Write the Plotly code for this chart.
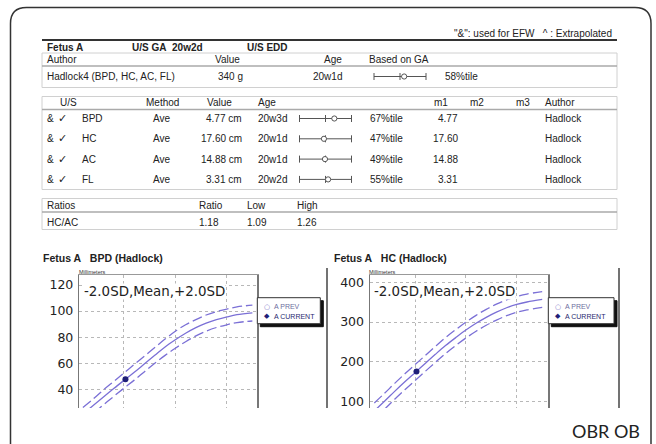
import plotly.graph_objects as go

W, H = 656, 444

# ---------------- data ----------------
weeks = [12, 14, 16, 18, 20, 22, 24, 26, 28, 30, 32, 34, 36, 38, 40, 42, 45]
bpd_upper = [26, 32.5, 39.5, 46, 52.5, 59, 65.5, 72, 78.5, 84.5, 89.5, 93.5, 97, 99.6, 101.5, 103.2, 104.6]
bpd_mean = [21, 27.5, 34, 40.5, 46.8, 53, 59.5, 66, 72.5, 78, 83, 87.3, 90.8, 93.5, 95.5, 97.2, 98.6]
bpd_lower = [15.5, 21.5, 28, 34.5, 40.8, 47, 53.5, 60, 66, 71.5, 76.5, 81, 84.6, 87.4, 89.5, 91.2, 92.4]
hc_upper = [97, 121, 146, 170, 193, 216, 239, 261, 281, 300, 317, 332, 345, 356, 364.5, 370.5, 376.5]
hc_mean = [77, 101, 126, 150, 173, 196, 219, 241, 261, 280, 297, 312, 325, 336, 344.5, 350.5, 357]
hc_lower = [57, 81, 106, 130, 153, 176, 199, 221, 241, 260, 277, 292, 305, 316, 324.5, 330.5, 337]
exam_ga = 20 + 2 / 7          # U/S GA 20w2d
bpd_current = 47.7            # mm
hc_current = 176.0            # mm

bpd_ticks = [40, 60, 80, 100, 120]
hc_ticks = [100, 200, 300, 400]
grid_weeks = [20, 30, 40]

efw_author = "Hadlock4 (BPD, HC, AC, FL)"
efw_value = "340 g"
efw_age = "20w1d"
efw_pct = 58

us_names = ["BPD", "HC", "AC", "FL"]
us_method = ["Ave", "Ave", "Ave", "Ave"]
us_values = ["4.77 cm", "17.60 cm", "14.88 cm", "3.31 cm"]
us_ages = ["20w3d", "20w1d", "20w1d", "20w2d"]
us_pcts = [67, 47, 49, 55]
us_m1 = ["4.77", "17.60", "14.88", "3.31"]
us_author = ["Hadlock", "Hadlock", "Hadlock", "Hadlock"]

ratio_name = "HC/AC"
ratio_vals = ["1.18", "1.09", "1.26"]

# ---------------- helpers ----------------
def px(x):
    return x / W

def py(y):
    return 1 - y / H

SANS = "Liberation Sans, Arial, sans-serif"
annots = []
shapes = []

def txt(x, y, s, size=10, bold=False, anchor="left", color="#222", family=SANS):
    if bold:
        s = "<b>" + s + "</b>"
    annots.append(dict(x=px(x), y=py(y), xref="paper", yref="paper", text=s,
                       showarrow=False, xanchor=anchor, yanchor="middle",
                       font=dict(size=size, color=color, family=family)))

def hline(x0, x1, y, color="#999", width=1):
    shapes.append(dict(type="line", xref="paper", yref="paper", x0=px(x0), x1=px(x1),
                       y0=py(y), y1=py(y), line=dict(color=color, width=width)))

def vline(x, y0, y1, color="#444", width=1):
    shapes.append(dict(type="line", xref="paper", yref="paper", x0=px(x), x1=px(x),
                       y0=py(y0), y1=py(y1), line=dict(color=color, width=width)))

def rect(x0, y0, x1, y1, line="#ccc", width=1, fill="rgba(0,0,0,0)"):
    shapes.append(dict(type="rect", xref="paper", yref="paper", x0=px(x0), x1=px(x1),
                       y0=py(y1), y1=py(y0), line=dict(color=line, width=width), fillcolor=fill))

def circle(x, y, r, line="#444", fill="white"):
    shapes.append(dict(type="circle", xref="paper", yref="paper", xsizemode="pixel", ysizemode="pixel",
                       xanchor=px(x), yanchor=py(y), x0=-r, x1=r, y0=-r, y1=r,
                       line=dict(color=line, width=1), fillcolor=fill))

def glyph(x0, x1, y, pct):
    hline(x0, x1, y, "#555", 1)
    vline(x0, y - 3.5, y + 3.5, "#555", 1)
    vline(x1, y - 3.5, y + 3.5, "#555", 1)
    xc = (x0 + x1) / 2
    vline(xc, y - 3.5, y + 3.5, "#555", 1)
    circle(x0 + (x1 - x0) * pct / 100.0, y, 2.6, "#555")

# ---------------- outer frame ----------------
fx0, fy0, fx1, fy1, r = 10.5, 7.5, 651, 470, 16
path = (f"M {px(fx0)},{py(fy1)} L {px(fx0)},{py(fy0 + r)} Q {px(fx0)},{py(fy0)} {px(fx0 + r)},{py(fy0)} "
        f"L {px(fx1 - r)},{py(fy0)} Q {px(fx1)},{py(fy0)} {px(fx1)},{py(fy0 + r)} L {px(fx1)},{py(fy1)}")
shapes.append(dict(type="path", xref="paper", yref="paper", path=path, line=dict(color="#333", width=1.5)))

# ---------------- report header ----------------
txt(614, 33.5, "\"&\": used for EFW\u00a0\u00a0\u00a0^ : Extrapolated", 10, anchor="right")
hline(42, 617, 40, "#333", 2)
txt(45, 47.5, "Fetus A", 10, True)
txt(129.7, 47.5, "U/S GA\u00a0\u00a020w2d", 10, True)
txt(244.8, 47.5, "U/S EDD", 10, True)

# EFW box
rect(42, 53, 617, 87.5, "#d0d0d0", 1)
hline(42, 617, 66, "#aaa", 1.5)
txt(45, 60, "Author", 10)
txt(213, 60, "Value", 10)
txt(344, 60, "Age", 10, anchor="right")
txt(367, 60, "Based on GA", 10)
txt(45, 76.5, efw_author, 10)
txt(215.5, 76.5, efw_value, 10)
txt(344, 76.5, efw_age, 10, anchor="right")
glyph(374, 426, 76.5, efw_pct)
txt(443, 76.5, f"{efw_pct}%tile", 10)

# U/S box
rect(42, 96.5, 617, 189.5, "#d0d0d0", 1)
hline(42, 617, 109.5, "#aaa", 1.5)
txt(57.7, 102.5, "U/S", 10)
txt(143.5, 102.5, "Method", 10)
txt(205, 102.5, "Value", 10)
txt(256, 102.5, "Age", 10)
txt(432, 102.5, "m1", 10)
txt(468, 102.5, "m2", 10)
txt(514, 102.5, "m3", 10)
txt(543, 102.5, "Author", 10)
row_y = [118.5, 138.8, 159.1, 179.4]
for i, yy in enumerate(row_y):
    txt(45, yy, "&", 10)
    txt(56, yy, "\u2713", 11, family="DejaVu Sans")
    txt(79.5, yy, us_names[i], 10)
    txt(172, yy, us_method[i], 10, anchor="right")
    txt(243.5, yy, us_values[i], 10, anchor="right")
    txt(256, yy, us_ages[i], 10)
    glyph(299.5, 351.5, yy, us_pcts[i])
    txt(367.5, yy, f"{us_pcts[i]}%tile", 10)
    txt(460, yy, us_m1[i], 10, anchor="right")
    txt(543, yy, us_author[i], 10)

# Ratios box
rect(42, 198.5, 617, 229.5, "#d0d0d0", 1)
hline(42, 617, 212, "#aaa", 1.5)
txt(45, 205.5, "Ratios", 10)
txt(196.7, 205.5, "Ratio", 10)
txt(244.8, 205.5, "Low", 10)
txt(295, 205.5, "High", 10)
txt(45, 222, ratio_name, 10)
txt(196.7, 222, ratio_vals[0], 10)
txt(244.8, 222, ratio_vals[1], 10)
txt(295, 222, ratio_vals[2], 10)

# ---------------- charts ----------------
CURVE = "#7b70d6"
POINT = "#1f1f78"
fig = go.Figure()

def add_chart(idx, up, mean, lo, cur):
    xa, ya = ("x", "y") if idx == 1 else ("x2", "y2")
    for arr, dash in ((up, "10px,4px"), (mean, "solid"), (lo, "10px,4px")):
        fig.add_trace(go.Scatter(x=weeks, y=arr, mode="lines", xaxis=xa, yaxis=ya,
                                 line=dict(color=CURVE, width=1.3, dash=dash, shape="spline"),
                                 hoverinfo="skip", showlegend=False))
    fig.add_trace(go.Scatter(x=[exam_ga], y=[cur], mode="markers", xaxis=xa, yaxis=ya,
                             marker=dict(color=POINT, size=6), hoverinfo="skip", showlegend=False))

add_chart(1, bpd_upper, bpd_mean, bpd_lower, bpd_current)
add_chart(2, hc_upper, hc_mean, hc_lower, hc_current)

def xax(d0, d1, rng, anchor):
    return dict(domain=[px(d0), px(d1)], range=rng, anchor=anchor, side="top",
                showline=True, linecolor="#999", linewidth=1.5, mirror=False,
                tickvals=grid_weeks, showticklabels=False, ticks="",
                showgrid=True, gridcolor="#b8b8b8", griddash="dot", gridwidth=1,
                zeroline=False, fixedrange=True)

def yax(rng, tv, anchor):
    return dict(domain=[py(408), py(275)], range=rng, anchor=anchor,
                showline=True, linecolor="#777", linewidth=1.5, mirror=True,
                tickvals=tv, ticks="", ticklabelstandoff=2,
                tickfont=dict(family="DejaVu Sans", size=12.5, color="#222"),
                showgrid=True, gridcolor="#b8b8b8", griddash="dot", gridwidth=1,
                zeroline=False, fixedrange=True)

# chart decorations
for (tx, title, mx, sdx, lg) in (
        (40.7, "Fetus A\u00a0\u00a0\u00a0BPD (Hadlock)", 77, 83, (257.3, 297.7, 320.3, 323.7)),
        (331.7, "Fetus A\u00a0\u00a0\u00a0HC (Hadlock)", 367, 373.3, (548.3, 297.7, 614, 323.7))):
    txt(tx, 258.3, title, 10.5, True)
    txt(mx, 271.5, "Millimeters", 5.5, color="#333")
    annots.append(dict(x=px(sdx), y=py(291.5), xref="paper", yref="paper",
                       text="-2.0SD,Mean,+2.0SD", showarrow=False, xanchor="left", yanchor="middle",
                       bgcolor="white", borderpad=0,
                       font=dict(family="DejaVu Sans", size=13.4, color="#222")))
    lx0, ly0, lx1, ly1 = lg
    rect(lx0 + 3, ly0 + 3, lx1 + 3, ly1 + 3, "#111", 1, "#111")
    rect(lx0, ly0, lx1, ly1, "#333", 1, "white")
    txt(lx0 + 10, 306.5, "\u25cb", 7, color="#7f78c8", anchor="center", family="DejaVu Sans")
    txt(lx0 + 15, 306.5, "A PREV", 7, color="#6e6ea0")
    txt(lx0 + 10, 316.0, "\u25c6", 7, color=POINT, anchor="center", family="DejaVu Sans")
    txt(lx0 + 15, 316.0, "A CURRENT", 7, color="#2a2a70")

vline(327, 268, 408, "#444", 1.5)
vline(619, 268, 408, "#444", 1.5)

txt(605.5, 431, "OBR OB", 18, family="Lato, Open Sans, sans-serif", anchor="center")

fig.update_layout(
    width=W, height=H, autosize=False,
    margin=dict(l=0, r=0, t=0, b=0),
    paper_bgcolor="white", plot_bgcolor="white",
    showlegend=False,
    xaxis=xax(79.3, 257.3, [11.3, 45.96], "y"),
    yaxis=yax([25.6, 127.7], bpd_ticks, "x"),
    xaxis2=xax(370, 548.3, [11.15, 46.2], "y2"),
    yaxis2=yax([84.2, 418.3], hc_ticks, "x2"),
    annotations=annots,
    shapes=shapes,
)

fig.write_html("out.html", config={"displayModeBar": False, "staticPlot": True},
               post_script="document.body.style.margin='0px';document.body.style.overflow='hidden';")
